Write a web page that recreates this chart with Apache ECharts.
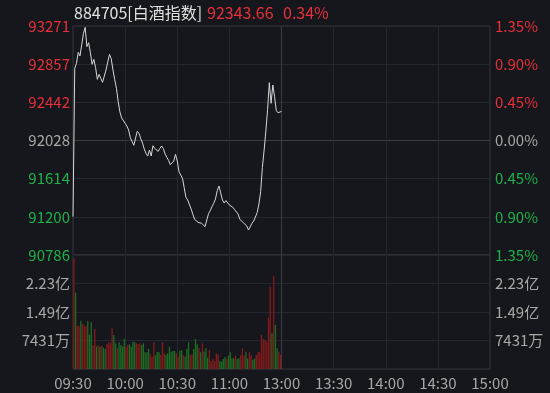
<!DOCTYPE html>
<html><head><meta charset="utf-8">
<script src="https://cdn.jsdelivr.net/npm/echarts@6/dist/echarts.min.js"></script>
<style>html,body{margin:0;padding:0;background:#15171c}#c{width:550px;height:393px}</style>
</head><body><div id="c"></div>
<script>
// ---- data ----
const titleCode = '884705[白酒指数]';
const lastPrice = '92343.66';
const lastPct = '0.34%';
const timeLabels = ['09:30','10:00','10:30','11:00','13:00','13:30','14:00','14:30','15:00'];
const priceTicks = [90786, 91200, 91614, 92028, 92442, 92857, 93271];
const pctTicks = ['1.35%','0.90%','0.45%','0.00%','0.45%','0.90%','1.35%'];
const volTicks = [0, 7431, 14862, 22293, 29724]; // unit: 万
const volTickLabels = ['', '7431万', '1.49亿', '2.23亿', ''];
// one price per minute, 09:30 .. 11:30
const prices = [
  91202,92812,92866,92985,92945,93065,93191,93256,93047,93090,
  92982,92855,92909,92819,92692,92746,92703,92660,92649,92793,
  92880,92963,92916,92793,92692,92595,92450,92338,92273,92276,
  92215,92186,92142,92059,92016,91976,92056,92128,92106,92048,
  92001,91936,91889,91860,91925,91860,91972,91943,91933,91911,
  91943,91969,91940,91882,91846,91813,91766,91745,91806,91878,
  91806,91690,91669,91618,91517,91412,91383,91368,91285,91227,
  91173,91169,91140,91159,91130,91130,91093,91166,91235,91267,
  91311,91347,91394,91484,91535,91459,91383,91350,91376,91394,
  91329,91314,91303,91278,91274,91231,91173,91169,91137,91140,
  91101,91057,91072,91130,91155,91166,91245,91339,91473,91737,
  91925,92132,92367,92656,92432,92631,92504,92352,92330,92341,
  92344
];
// volume per minute (万)
const volumes = [
  28851,19900,11297,11297,12600,11732,11384,11123,12514,8864,
  12253,6257,10428,5909,6257,5822,6083,5562,5214,6431,
  6952,6691,10602,8864,6691,5388,6952,6257,5822,7821,
  5822,6257,6431,5822,7126,6952,6691,6431,6691,6257,
  6691,4345,4345,5214,3824,3215,6952,3650,4519,4345,
  3650,6952,4084,3650,4084,5822,4519,4693,4693,4171,
  3215,4693,4953,3650,3215,5214,6952,3650,3824,5214,
  7821,6431,5388,4345,6691,4519,5388,2955,4953,2086,
  2607,2086,4084,3824,2086,1912,2607,3128,2607,3476,
  4345,2781,2781,3476,2607,2781,3650,5388,3476,4519,
  2781,4345,3650,2433,2781,3650,4519,4345,8864,7821,
  7560,7126,13383,21464,9298,24332,11471,5388,4519,3650
];
// u = up (red), d = down (green)
const volDir = [
  'u','d','u','u','d','u','u','u','d','d',
  'd','u','u','d','u','d','u','d','d','u',
  'u','u','u','d','d','u','d','d','d','d',
  'u','u','d','d','d','d','u','u','u','d',
  'd','d','d','d','u','u','u','d','d','d',
  'u','u','u','d','d','d','d','d','d','u',
  'u','d','d','u','d','d','d','u','u','d',
  'd','d','u','d','u','d','d','d','u','u',
  'u','u','u','u','d','d','d','d','u','d',
  'd','d','d','u','d','d','u','u','u','d',
  'd','u','u','d','d','u','u','u','u','u',
  'u','u','u','u','d','u','d','d','u','u'
];

// ---- style ----
const BG = '#15171c';
const RED = '#e8303a';
const GREEN = '#1fb24a';
const GREY = '#a8a8a8';
const GRID = '#24272d';
const GRID_HI = '#3a3d44';
const FONT = '"Noto Sans CJK SC","Noto Sans",sans-serif';
const L = 73, R = 60;

function nearest(arr, v) {
  let bi = 0, bd = Infinity;
  arr.forEach((a, i) => { const d = Math.abs(a - v); if (d < bd) { bd = d; bi = i; } });
  return bi;
}
function priceColor(v) {
  const i = nearest(priceTicks, parseFloat(v));
  return i < 3 ? GREEN : (i > 3 ? RED : GREY);
}

const chart = echarts.init(document.getElementById('c'), null, {renderer: 'canvas'});
const priceInterval = 414.17;
const titleStyle = {fontSize: 16, fontWeight: 'normal', fontFamily: FONT};

chart.setOption({
  backgroundColor: BG,
  animation: false,
  textStyle: {fontFamily: FONT},
  title: [
    {text: titleCode, left: 74, top: 5, padding: 0, textStyle: Object.assign({color: '#e2e2e2'}, titleStyle)},
    {text: lastPrice, left: 207, top: 5, padding: 0, textStyle: Object.assign({color: RED}, titleStyle)},
    {text: lastPct, left: 283, top: 5, padding: 0, textStyle: Object.assign({color: RED}, titleStyle)}
  ],
  grid: [
    {left: L, right: R, top: 26, height: 229, show: true, borderColor: '#33363c', borderWidth: 1, backgroundColor: 'transparent'},
    {left: L, right: R, top: 255, height: 114, show: true, borderColor: '#33363c', borderWidth: 1, backgroundColor: 'transparent'}
  ],
  xAxis: [
    {type: 'value', gridIndex: 0, min: 0, max: 240, interval: 30,
     axisLine: {show: false}, axisTick: {show: false}, axisLabel: {show: false},
     splitLine: {show: true, lineStyle: {color: [GRID, GRID, GRID, GRID, GRID_HI, GRID, GRID, GRID, GRID], width: 1}}},
    {type: 'value', gridIndex: 1, min: 0, max: 240, interval: 30,
     axisLine: {show: false}, axisTick: {show: false},
     axisLabel: {show: true, color: GREY, fontSize: 15, margin: 7, fontFamily: FONT,
       formatter: v => timeLabels[Math.round(v / 30)] || ''},
     splitLine: {show: true, lineStyle: {color: [GRID, GRID, GRID, GRID, GRID_HI, GRID, GRID, GRID, GRID], width: 1}}}
  ],
  yAxis: [
    {type: 'value', gridIndex: 0, position: 'left', min: priceTicks[0], max: priceTicks[6], interval: priceInterval,
     axisLine: {show: false}, axisTick: {show: false},
     axisLabel: {show: true, fontSize: 15, margin: 3, fontFamily: FONT,
       formatter: v => String(priceTicks[nearest(priceTicks, v)]),
       color: v => priceColor(v)},
     splitLine: {show: true, lineStyle: {color: [GRID, GRID, GRID, GRID_HI, GRID, GRID, GRID], width: 1}}},
    {type: 'value', gridIndex: 0, position: 'right', min: priceTicks[0], max: priceTicks[6], interval: priceInterval,
     axisLine: {show: false}, axisTick: {show: false},
     axisLabel: {show: true, fontSize: 15, margin: 5, fontFamily: FONT,
       formatter: v => pctTicks[nearest(priceTicks, v)],
       color: v => priceColor(v)},
     splitLine: {show: false}},
    {type: 'value', gridIndex: 1, position: 'left', min: 0, max: volTicks[4], interval: volTicks[1],
     axisLine: {show: false}, axisTick: {show: false},
     axisLabel: {show: true, color: GREY, fontSize: 15, margin: 3, fontFamily: FONT,
       formatter: v => volTickLabels[nearest(volTicks, v)]},
     splitLine: {show: true, lineStyle: {color: GRID, width: 1}}},
    {type: 'value', gridIndex: 1, position: 'right', min: 0, max: volTicks[4], interval: volTicks[1],
     axisLine: {show: false}, axisTick: {show: false},
     axisLabel: {show: true, color: GREY, fontSize: 15, margin: 5, fontFamily: FONT,
       formatter: v => volTickLabels[nearest(volTicks, v)]},
     splitLine: {show: false}}
  ],
  series: [
    {type: 'line', xAxisIndex: 0, yAxisIndex: 0, showSymbol: false, symbol: 'none',
     data: prices.map((p, i) => [i, p]),
     lineStyle: {color: '#d6d6d6', width: 1}},
    {type: 'bar', xAxisIndex: 1, yAxisIndex: 2, barWidth: 1.3,
     data: volumes.map((v, i) => ({value: [i + 0.5, v],
       itemStyle: {color: volDir[i] === 'u' ? '#861b1d' : '#1d6f22'}}))}
  ]
});
</script></body></html>
